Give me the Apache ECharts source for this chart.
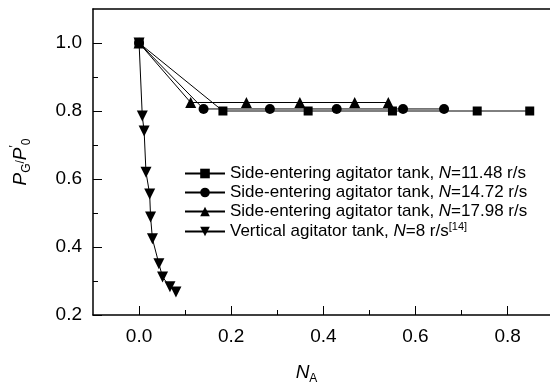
<!DOCTYPE html>
<html>
<head>
<meta charset="utf-8">
<script src="https://cdn.jsdelivr.net/npm/echarts@6/dist/echarts.min.js"></script>
<style>html,body{margin:0;padding:0;background:#fff;}#c{width:550px;height:390px;}</style>
</head>
<body>
<div id="c"></div>
<script>
// Data
const legendNames = [
  'Side-entering agitator tank, {i|N}=11.48 r/s',
  'Side-entering agitator tank, {i|N}=14.72 r/s',
  'Side-entering agitator tank, {i|N}=17.98 r/s',
  'Vertical agitator tank, {i|N}=8 r/s{sup|[14]}'
];
const xN1148 = [0, 0.182, 0.367, 0.550, 0.734, 0.848];
const yN1148 = [1.0, 0.800, 0.800, 0.800, 0.800, 0.800];
const xN1472 = [0, 0.140, 0.284, 0.429, 0.573, 0.662];
const yN1472 = [1.0, 0.806, 0.806, 0.806, 0.806, 0.806];
const xN1798 = [0, 0.112, 0.233, 0.349, 0.468, 0.541];
const yN1798 = [1.0, 0.825, 0.825, 0.825, 0.825, 0.825];
const xN8 = [0, 0.007, 0.011, 0.015, 0.023, 0.025, 0.029, 0.043, 0.051, 0.067, 0.080];
const yN8 = [1.0, 0.785, 0.741, 0.620, 0.556, 0.488, 0.424, 0.351, 0.312, 0.283, 0.268];
const xMajorTicks = [0, 0.2, 0.4, 0.6, 0.8];
const xMinorTicks = [0.1, 0.3, 0.5, 0.7];
const yMajorTicks = [0.2, 0.4, 0.6, 0.8, 1.0];
const yMinorTicks = [0.3, 0.5, 0.7, 0.9];

const FONT = '"Liberation Sans", Arial, sans-serif';
const zip = (xs, ys) => xs.map((x, i) => [x, ys[i]]);
const symbols = ['rect', 'circle', 'triangle', 'path://M0,0 L10,0 L5,10 Z'];
const sizes = [9, 10, 11, 11];
const seriesData = [zip(xN1148, yN1148), zip(xN1472, yN1472), zip(xN1798, yN1798), zip(xN8, yN8)];

const X_MIN = -0.1, X_MAX = 0.892; // plot runs off the right edge of the picture
const chart = echarts.init(document.getElementById('c'), null, {renderer: 'canvas'});
const axisLineStyle = {color: '#000', width: 1.5};
chart.setOption({
  animation: false,
  backgroundColor: '#fff',
  grid: {left: 93, top: 9, right: 0, height: 307.5, show: false, containLabel: false},
  legend: {
    orient: 'vertical', left: 184, top: 164, padding: 0,
    itemWidth: 40, itemHeight: 12, itemGap: 0,
    data: legendNames,
    textStyle: {fontFamily: FONT, fontSize: 17, color: '#000', lineHeight: 19,
      rich: {
        i: {fontFamily: FONT, fontSize: 17, fontStyle: 'italic', color: '#000'},
        sup: {fontFamily: FONT, fontSize: 11, color: '#000', padding: [0, 0, 10, 0]}
      }
    }
  },
  xAxis: [{
    type: 'value', min: X_MIN, max: X_MAX, position: 'bottom',
    name: '{i|N}{sub|A}', nameLocation: 'middle', nameGap: 46,
    nameTextStyle: {padding: [0, 30, 0, 0], rich: {
      i: {fontFamily: FONT, fontSize: 19, fontStyle: 'italic', color: '#000'},
      sub: {fontFamily: FONT, fontSize: 12, color: '#000', padding: [12, 0, 0, 0]}
    }},
    axisLine: {show: true, onZero: false, lineStyle: axisLineStyle},
    axisTick: {show: true, inside: true, length: 9, customValues: xMajorTicks, lineStyle: {color: '#000'}},
    axisLabel: {customValues: xMajorTicks, fontFamily: FONT, fontSize: 19, color: '#000', margin: 12,
      formatter: v => v.toFixed(1)},
    splitLine: {show: false}
  }, {
    type: 'value', min: X_MIN, max: X_MAX, position: 'bottom', offset: 0,
    axisLine: {show: false, onZero: false},
    axisTick: {show: true, inside: true, length: 5, customValues: xMinorTicks, lineStyle: {color: '#000'}},
    axisLabel: {show: false},
    splitLine: {show: false}
  }, {
    type: 'value', min: X_MIN, max: X_MAX, position: 'top', offset: 0,
    axisLine: {show: true, onZero: false, lineStyle: axisLineStyle},
    axisTick: {show: false},
    axisLabel: {show: false},
    splitLine: {show: false}
  }],
  yAxis: [{
    type: 'value', min: 0.2, max: 1.1, position: 'left',
    name: '{i|P}{sub|G}/{i|P}{sup|\u2032}{sub|0}', nameLocation: 'middle', nameGap: 60,
    nameTextStyle: {rich: {
      i: {fontFamily: FONT, fontSize: 19, fontStyle: 'italic', color: '#000'},
      sub: {fontFamily: FONT, fontSize: 12, color: '#000', padding: [12, 0, 0, 0]},
      sup: {fontFamily: FONT, fontSize: 12, color: '#000', padding: [0, 0, 12, 0]}
    }},
    axisLine: {show: true, onZero: false, lineStyle: axisLineStyle},
    axisTick: {show: true, inside: true, length: 9, customValues: yMajorTicks, lineStyle: {color: '#000'}},
    axisLabel: {customValues: yMajorTicks, fontFamily: FONT, fontSize: 19, color: '#000', margin: 11,
      formatter: v => v.toFixed(1)},
    splitLine: {show: false}
  }, {
    type: 'value', min: 0.2, max: 1.1, position: 'left', offset: 0,
    axisLine: {show: false, onZero: false},
    axisTick: {show: true, inside: true, length: 5, customValues: yMinorTicks, lineStyle: {color: '#000'}},
    axisLabel: {show: false},
    splitLine: {show: false}
  }],
  series: legendNames.map((n, i) => ({
    name: n, type: 'line', data: seriesData[i],
    symbol: symbols[i], symbolSize: sizes[i], showSymbol: true,
    itemStyle: {color: '#000'},
    lineStyle: {color: '#000', width: 1},
    z: 10 - i
  }))
});
</script>
</body>
</html>
